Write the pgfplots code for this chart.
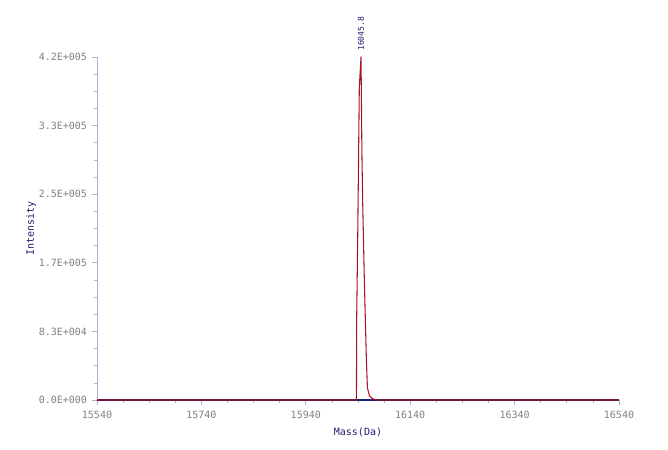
\documentclass[border=0pt]{standalone}
\usepackage{pgfplots}
\pgfplotsset{compat=1.18}
\usepackage{fontspec}
\setmainfont{DejaVu Sans Mono}
\definecolor{axisnavy}{RGB}{30,30,110}
\definecolor{axislav}{RGB}{176,176,208}
\definecolor{ticktext}{RGB}{128,128,128}
\definecolor{peakred}{RGB}{165,20,45}

\begin{document}
\begin{tikzpicture}
\useasboundingbox (0,0) rectangle (501pt,337.5pt);
\begin{axis}[%
scale only axis,
width=391.5pt, height=257.25pt,
at={(72.75pt,37.5pt)}, anchor=south west,
xmin=15540, xmax=16540,
ymin=0, ymax=417000,
scaled ticks=false,
axis x line*=bottom, axis y line*=left,
x axis line style={draw=axisnavy, line width=0.8pt, -},
y axis line style={draw=axislav, line width=0.6pt, -},
xtick={15540,15740,15940,16140,16340,16540},
xticklabels={15540,15740,15940,16140,16340,16540},
ytick={0,83400,166800,250200,333600,417000},
yticklabels={0.0E+000,8.3E+004,1.7E+005,2.5E+005,3.3E+005,4.2E+005},
minor tick num=3,
tick align=outside,
major tick length=4pt,
minor tick length=2.5pt,
tick style={draw=axislav, line width=0.5pt},
ticklabel style={font=\fontsize{7.5}{8}\selectfont, text=ticktext},
xticklabel style={yshift=-1pt},
xlabel={Mass(Da)},
ylabel={Intensity},
label style={font=\fontsize{7.5}{8}\selectfont, text=axisnavy},
xlabel style={at={(axis description cs:0.5,-0.093)}, anchor=center},
ylabel style={at={(axis description cs:-0.126,0.5)}, anchor=center},
clip=false,
]
\addplot [color=peakred, line width=0.8pt, line join=round] coordinates {
(15540,0) (16036.5,0) (16037.0,2000) (16037.5,100000) (16039.5,200000)
(16042.5,380000) (16045.8,417000) (16047.5,300000) (16049,240000)
(16052,150000) (16054,100000) (16056,50000) (16058,15000) (16062,5000)
(16068,1500) (16076,0) (16540,0)};
\node[rotate=90, anchor=west, inner sep=4.5pt, text=axisnavy,
  font=\fontsize{6}{7}\selectfont] at (axis cs:16045.8,417000) {16045.8};
\end{axis}
\end{tikzpicture}
\end{document}
